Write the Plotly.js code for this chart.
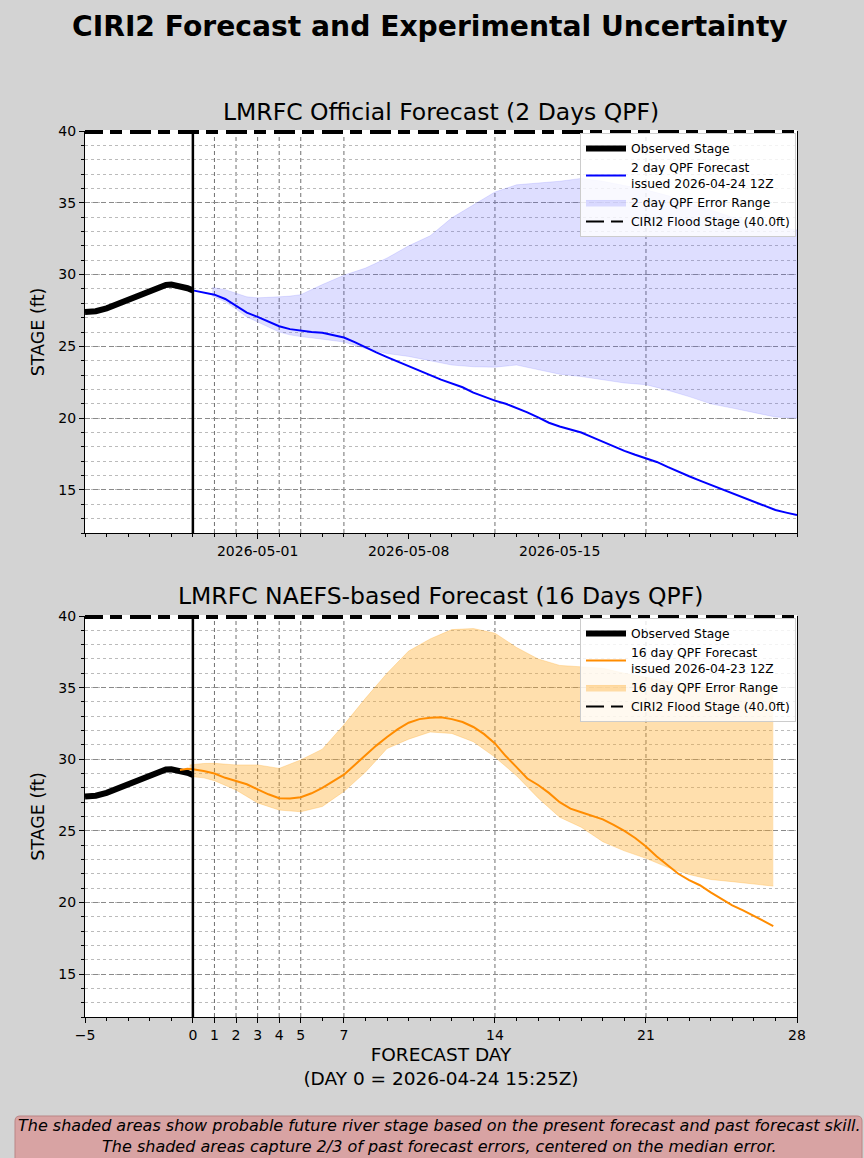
<!DOCTYPE html>
<html>
<head>
<meta charset="utf-8">
<script src="https://cdn.plot.ly/plotly-3.0.1.min.js"></script>
<style>
  html, body { margin: 0; padding: 0; background: #d3d3d3; }
  #chart { width: 864px; height: 1158px; }
</style>
</head>
<body>
<div id="chart"></div>
<script>
// ---------------- DATA ----------------
const observedDays = [-5, -4.5, -4, -3.5, -3, -2.5, -2, -1.5, -1.25, -1, -0.75, -0.5, -0.25, 0];
const observedStage = [27.4, 27.45, 27.65, 27.95, 28.3, 28.6, 28.9, 29.2, 29.28, 29.3, 29.25, 29.15, 29.05, 28.9];

const qpf2Days = [0, 0.5, 1, 1.5, 2, 2.5, 3, 3.5, 4, 4.5, 5, 5.5, 6, 6.5, 7, 7.5, 8, 8.5, 9, 9.5, 10, 10.5, 11, 11.5, 12, 12.5, 13, 13.5, 14, 14.5, 15, 15.5, 16, 16.5, 17, 17.5, 18, 18.5, 19, 19.5, 20, 20.5, 21, 21.5, 22, 22.5, 23, 23.5, 24, 24.5, 25, 25.5, 26, 26.5, 27, 27.5, 28];
const qpf2Stage = [28.9, 28.75, 28.6, 28.3, 27.85, 27.35, 27.05, 26.75, 26.4, 26.2, 26.08, 26.0, 25.95, 25.8, 25.62, 25.3, 24.92, 24.58, 24.25, 23.95, 23.65, 23.35, 23.0, 22.68, 22.42, 22.15, 21.78, 21.48, 21.22, 21.0, 20.72, 20.4, 20.05, 19.68, 19.42, 19.22, 19.0, 18.68, 18.35, 18.0, 17.72, 17.45, 17.2, 16.95, 16.6, 16.25, 15.95, 15.65, 15.35, 15.08, 14.8, 14.5, 14.15, 13.85, 13.6, 13.42, 13.25];

const band2Days = [0.9, 1.5, 2, 2.5, 3, 3.5, 4, 4.5, 5, 6, 7, 8, 9, 10, 11, 12, 13, 14, 15, 16, 17, 18, 19, 20, 21, 22, 23, 24, 25, 26, 27, 28];
const band2Upper = [29.1, 28.95, 28.7, 28.45, 28.38, 28.4, 28.45, 28.5, 28.6, 29.3, 29.95, 30.45, 31.15, 32.0, 32.7, 33.95, 34.85, 35.75, 36.25, 36.35, 36.5, 36.7, 36.5, 36.2, 35.9, 35.5, 35.0, 34.5, 34.0, 33.6, 33.35, 33.1];
const band2Lower = [28.5, 28.1, 27.6, 27.05, 26.7, 26.35, 26.0, 25.8, 25.68, 25.5, 25.3, 24.85, 24.5, 24.3, 24.0, 23.7, 23.58, 23.55, 23.7, 23.4, 23.06, 22.9, 22.7, 22.45, 22.33, 21.95, 21.5, 21.0, 20.7, 20.4, 20.08, 20.0];

const qpf16Days = [-0.6, -0.25, 0, 0.5, 1, 1.5, 2, 2.5, 3, 3.5, 4, 4.5, 5, 5.5, 6, 6.5, 7, 7.5, 8, 8.5, 9, 9.5, 10, 10.5, 11, 11.5, 12, 12.5, 13, 13.5, 14, 14.5, 15, 15.5, 16, 16.5, 17, 17.5, 18, 18.5, 19, 19.5, 20, 20.5, 21, 21.5, 22, 22.5, 23, 23.5, 24, 24.5, 25, 25.5, 26, 26.5, 26.9];
const qpf16Stage = [29.25, 29.33, 29.3, 29.18, 29.0, 28.7, 28.48, 28.25, 27.9, 27.55, 27.28, 27.25, 27.35, 27.62, 28.0, 28.43, 28.92, 29.6, 30.3, 30.95, 31.55, 32.1, 32.55, 32.8, 32.9, 32.93, 32.8, 32.6, 32.25, 31.75, 31.1, 30.22, 29.45, 28.65, 28.2, 27.65, 27.0, 26.55, 26.3, 26.05, 25.8, 25.42, 25.0, 24.5, 23.9, 23.2, 22.6, 22.0, 21.55, 21.2, 20.7, 20.25, 19.8, 19.45, 19.05, 18.7, 18.35];

const band16Days = [-0.15, 0.5, 1, 2, 3, 4, 5, 6, 7, 8, 9, 10, 11, 12, 13, 14, 15, 16, 17, 18, 19, 20, 21, 22, 23, 24, 25, 26, 26.9];
const band16Upper = [29.6, 29.7, 29.71, 29.6, 29.6, 29.36, 29.95, 30.7, 32.4, 34.25, 36.0, 37.55, 38.4, 39.05, 39.12, 38.8, 37.8, 37.0, 36.55, 36.45, 36.35, 36.0, 35.7, 35.4, 35.15, 35.0, 34.95, 34.95, 34.95];
const band16Lower = [28.8, 28.7, 28.5, 27.85, 26.95, 26.45, 26.33, 26.7, 27.75, 29.1, 30.75, 31.4, 31.9, 31.8, 31.22, 30.15, 28.85, 27.3, 25.95, 25.25, 24.24, 23.6, 23.08, 22.45, 21.95, 21.6, 21.45, 21.3, 21.14];

const floodStage = 40.0;
const xRange = [-5, 28];
const yRange = [12, 40];
const guideDays = [1, 2, 3, 4, 5, 7, 14, 21];
const topTickDays = [3, 10, 17];
const topTickText = ['2026-05-01', '2026-05-08', '2026-05-15'];
const bottomTickDays = [-5, 0, 1, 2, 3, 4, 5, 7, 14, 21, 28];
const bottomTickText = ['\u22125', '0', '1', '2', '3', '4', '5', '7', '14', '21', '28'];
const stageTicks = [15, 20, 25, 30, 35, 40];

// ---------------- LAYOUT HELPERS ----------------
const W = 864, H = 1158;
const px = x => x / W;
const py = y => 1 - y / H;
const FONT = 'DejaVu Sans, Verdana, sans-serif';
const PLOT_L = 85, PLOT_R = 797;
const TOP_T = 131, TOP_B = 533, BOT_T = 616, BOT_B = 1017;
const floodDash = '18px,7px,12px,8px,3px,0px';

function bandTraces(days, lower, upper, fillColor, name, xa, ya, leg) {
  return [
    { x: days, y: lower, type: 'scatter', mode: 'lines', xaxis: xa, yaxis: ya,
      line: { width: 0.8, color: fillColor }, showlegend: false, hoverinfo: 'skip', legend: leg },
    { x: days, y: upper, type: 'scatter', mode: 'lines', xaxis: xa, yaxis: ya,
      line: { width: 0.8, color: fillColor }, fill: 'tonexty', fillcolor: fillColor,
      name: name, legendrank: 3, legend: leg }
  ];
}

const blueFill = 'rgba(90,90,255,0.2)';
const orangeFill = 'rgba(255,170,40,0.38)';

const traces = [
  ...bandTraces(band2Days, band2Lower, band2Upper, blueFill, '2 day QPF Error Range', 'x', 'y', 'legend'),
  { x: observedDays, y: observedStage, type: 'scatter', mode: 'lines', xaxis: 'x', yaxis: 'y',
    line: { color: 'black', width: 6 }, name: 'Observed Stage', legendrank: 1, legend: 'legend' },
  { x: qpf2Days, y: qpf2Stage, type: 'scatter', mode: 'lines', xaxis: 'x', yaxis: 'y',
    line: { color: '#0000ff', width: 2 }, name: '2 day QPF Forecast<br>issued 2026-04-24 12Z', legendrank: 2, legend: 'legend' },
  { x: xRange, y: [floodStage, floodStage], type: 'scatter', mode: 'lines', xaxis: 'x', yaxis: 'y',
    line: { color: 'black', width: 2, dash: floodDash }, name: 'CIRI2 Flood Stage (40.0ft)', legendrank: 4, legend: 'legend' },

  ...bandTraces(band16Days, band16Lower, band16Upper, orangeFill, '16 day QPF Error Range', 'x2', 'y2', 'legend2'),
  { x: observedDays, y: observedStage, type: 'scatter', mode: 'lines', xaxis: 'x2', yaxis: 'y2',
    line: { color: 'black', width: 6 }, name: 'Observed Stage', legendrank: 1, legend: 'legend2' },
  { x: qpf16Days, y: qpf16Stage, type: 'scatter', mode: 'lines', xaxis: 'x2', yaxis: 'y2',
    line: { color: '#ff8c00', width: 2 }, name: '16 day QPF Forecast<br>issued 2026-04-23 12Z', legendrank: 2, legend: 'legend2' },
  { x: xRange, y: [floodStage, floodStage], type: 'scatter', mode: 'lines', xaxis: 'x2', yaxis: 'y2',
    line: { color: 'black', width: 2, dash: floodDash }, name: 'CIRI2 Flood Stage (40.0ft)', legendrank: 4, legend: 'legend2' }
];

// ---------------- SHAPES ----------------
const shapes = [];
[['x', 'y'], ['x2', 'y2']].forEach(([xa, ya]) => {
  guideDays.forEach(d => shapes.push({
    type: 'line', xref: xa, yref: ya + ' domain', x0: d, x1: d, y0: 0, y1: 1,
    line: { color: '#707070', width: 1, dash: '4px,3px' }, layer: 'below'
  }));
  shapes.push({
    type: 'line', xref: xa, yref: ya + ' domain', x0: 0, x1: 0, y0: 0, y1: 1,
    line: { color: 'black', width: 2.5 }, layer: 'above'
  });
});
// top edge: flood-stage line lying on the upper frame
[TOP_T, BOT_T].forEach(t => {
  shapes.push({ type: 'line', xref: 'paper', yref: 'paper', x0: px(PLOT_L), x1: px(PLOT_R), y0: py(t + 1), y1: py(t + 1),
    line: { color: 'white', width: 4 }, layer: 'above' });
  shapes.push({ type: 'line', xref: 'paper', yref: 'paper', x0: px(PLOT_L), x1: px(PLOT_R), y0: py(t + 1), y1: py(t + 1),
    line: { color: 'black', width: 4, dash: floodDash }, layer: 'above' });
});
// footer box with rounded corners
(function () {
  const x0 = 15, x1 = 862, y0 = 1116, y1 = 1162, r = 5;
  const P = (x, y) => px(x) + ',' + py(y);
  const path = 'M' + P(x0 + r, y0) + ' L' + P(x1 - r, y0) + ' Q' + P(x1, y0) + ' ' + P(x1, y0 + r) +
    ' L' + P(x1, y1) + ' L' + P(x0, y1) + ' L' + P(x0, y0 + r) + ' Q' + P(x0, y0) + ' ' + P(x0 + r, y0) + ' Z';
  shapes.push({ type: 'path', xref: 'paper', yref: 'paper', path: path,
    fillcolor: '#d8a3a3', line: { color: '#b98585', width: 1 }, layer: 'below' });
})();

// ---------------- AXES ----------------
function xAxis(anchor, tickvals, ticktext, extra) {
  return Object.assign({
    domain: [px(PLOT_L), px(PLOT_R)], anchor: anchor, range: xRange,
    showgrid: false, zeroline: false, showline: true, linecolor: 'black', linewidth: 1, mirror: false,
    tickmode: 'array', tickvals: tickvals, ticktext: ticktext,
    ticks: 'outside', ticklen: 5, tickcolor: 'black', tickwidth: 1,
    tickfont: { family: FONT, size: 14, color: 'black' },
    minor: { dtick: 1, tick0: 0, ticks: 'outside', ticklen: 3, tickcolor: 'black', showgrid: false }
  }, extra || {});
}
function yAxis(anchor, dom) {
  return {
    domain: dom, anchor: anchor, range: yRange,
    showline: true, linecolor: 'black', linewidth: 1, mirror: true,
    zeroline: false,
    tickmode: 'array', tickvals: stageTicks,
    ticks: 'outside', ticklen: 5, tickcolor: 'black',
    tickfont: { family: FONT, size: 14, color: 'black' },
    showgrid: true, gridcolor: '#8a8a8a', griddash: '5px,3px', gridwidth: 1,
    minor: { dtick: 1, tick0: 0, ticks: 'outside', ticklen: 3, tickcolor: 'black',
      showgrid: true, gridcolor: '#bbbbbb', griddash: 'dot', gridwidth: 1 },
    title: { text: 'STAGE (ft)', font: { family: FONT, size: 17.5, color: 'black' }, standoff: 9 }
  };
}

const legendStyle = (top) => ({
  x: px(796), xanchor: 'right', y: py(top), yanchor: 'top',
  bgcolor: 'rgba(255,255,255,0.82)', bordercolor: '#cccccc', borderwidth: 1,
  font: { family: FONT, size: 12.3, color: 'black' }, tracegroupgap: 0, itemwidth: 40,
  traceorder: 'normal'
});

const layout = {
  width: W, height: H,
  paper_bgcolor: '#d3d3d3', plot_bgcolor: 'white',
  margin: { l: 0, r: 0, t: 0, b: 0 },
  showlegend: true,
  font: { family: FONT, color: 'black' },
  xaxis: xAxis('y', topTickDays, topTickText),
  yaxis: yAxis('x', [py(TOP_B), py(TOP_T)]),
  xaxis2: xAxis('y2', bottomTickDays, bottomTickText, {
    title: { text: 'FORECAST DAY<br>(DAY 0 = 2026-04-24 15:25Z)', font: { family: FONT, size: 18.5, color: 'black' }, standoff: 6 }
  }),
  yaxis2: yAxis('x2', [py(BOT_B), py(BOT_T)]),
  legend: legendStyle(TOP_T + 2),
  legend2: legendStyle(BOT_T + 2),
  shapes: shapes,
  annotations: [
    { text: '<b>CIRI2 Forecast and Experimental Uncertainty</b>', xref: 'paper', yref: 'paper',
      x: px(430), y: py(27), xanchor: 'center', yanchor: 'middle', showarrow: false,
      font: { family: FONT, size: 28.2, color: 'black' } },
    { text: 'LMRFC Official Forecast (2 Days QPF)', xref: 'paper', yref: 'paper',
      x: px(441), y: py(112), xanchor: 'center', yanchor: 'middle', showarrow: false,
      font: { family: FONT, size: 23.5, color: 'black' } },
    { text: 'LMRFC NAEFS-based Forecast (16 Days QPF)', xref: 'paper', yref: 'paper',
      x: px(441), y: py(596), xanchor: 'center', yanchor: 'middle', showarrow: false,
      font: { family: FONT, size: 23.5, color: 'black' } },
    { text: 'The shaded areas show probable future river stage based on the present forecast and past forecast skill.<br>The shaded areas capture 2/3 of past forecast errors, centered on the median error.',
      xref: 'paper', yref: 'paper', x: px(439), y: py(1136), xanchor: 'center', yanchor: 'middle', showarrow: false,
      align: 'center', font: { family: FONT, size: 16, color: 'black', style: 'italic' } }
  ]
};

Plotly.newPlot('chart', traces, layout, { displayModeBar: false, staticPlot: true });
</script>
</body>
</html>
